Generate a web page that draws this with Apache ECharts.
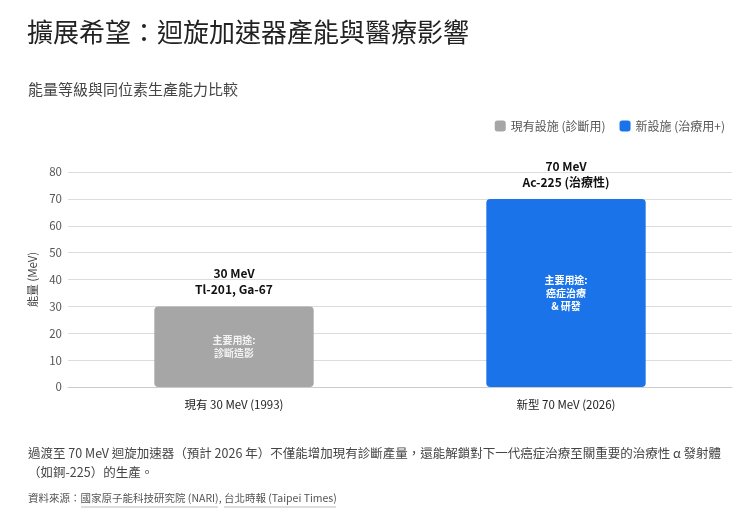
<!DOCTYPE html>
<html><head><meta charset="utf-8">
<script src="https://cdn.jsdelivr.net/npm/echarts@6/dist/echarts.min.js"></script>
<style>html,body{margin:0;padding:0;background:#fff}#c{width:740px;height:518px}</style>
</head><body><div id="c"></div>
<script>
const categories = ['現有 30 MeV (1993)', '新型 70 MeV (2026)'];
const seriesNames = ['現有設施 (診斷用)', '新設施 (治療用+)'];
const existingValues = [30, '-'];
const newValues = ['-', 70];
const topLabels = ['30 MeV\nTl-201, Ga-67', '70 MeV\nAc-225 (治療性)'];
const insideLabels = ['主要用途:\n診斷造影', '主要用途:\n癌症治療\n& 研發'];
const yTicks = [0, 10, 20, 30, 40, 50, 60, 70, 80];

const FONT = '"Noto Sans CJK TC", "Noto Sans", sans-serif';
const chart = echarts.init(document.getElementById('c'), null, {renderer: 'canvas'});

function barSeries(name, data, color, idx, insideColor) {
  return {
    name, type: 'bar', stack: 'all', data, barWidth: '48%',
    itemStyle: {color, borderRadius: 4},
    label: {
      show: true, position: 'inside', color: insideColor,
      fontSize: 10, fontWeight: 'bold', lineHeight: 13, fontFamily: FONT,
      formatter: () => insideLabels[idx]
    },
    markPoint: {
      symbol: 'rect', symbolSize: 1, itemStyle: {color: 'transparent'},
      label: {
        show: true, position: 'top', distance: 8, color: '#111', fontSize: 12,
        fontWeight: 'bold', lineHeight: 16, fontFamily: FONT,
        formatter: () => topLabels[idx]
      },
      data: [{coord: [idx, data[idx]]}]
    }
  };
}

chart.setOption({
  animation: false,
  textStyle: {fontFamily: FONT},
  title: [
    {text: '擴展希望：迴旋加速器產能與醫療影響', left: 22, top: 14,
     textStyle: {fontSize: 26, fontWeight: 'normal', color: '#222', fontFamily: FONT}},
    {text: '能量等級與同位素生產能力比較', left: 23, top: 77,
     textStyle: {fontSize: 15, fontWeight: 'normal', color: '#444', fontFamily: FONT}}
  ],
  legend: {
    right: 10, top: 115, itemWidth: 11, itemHeight: 11, itemGap: 14,
    icon: 'roundRect',
    textStyle: {fontSize: 12, color: '#555', fontFamily: FONT},
    data: seriesNames
  },
  grid: {left: 68, right: 8, top: 172, bottom: 131},
  xAxis: {
    type: 'category', data: categories,
    axisLine: {show: true, lineStyle: {color: '#ccc'}},
    axisTick: {show: false},
    axisLabel: {fontSize: 11.5, color: '#222', margin: 12, fontFamily: FONT}
  },
  yAxis: {
    type: 'value', min: yTicks[0], max: yTicks[yTicks.length - 1], interval: 10,
    name: '能量 (MeV)', nameLocation: 'middle', nameGap: 27,
    nameTextStyle: {fontSize: 11.5, color: '#444', fontFamily: FONT},
    axisLine: {show: false}, axisTick: {show: false},
    axisLabel: {fontSize: 11.5, color: '#555', margin: 6, fontFamily: FONT},
    splitLine: {lineStyle: {color: '#dcdcdc', width: 1}}
  },
  series: [
    barSeries(seriesNames[0], existingValues, '#a6a6a6', 0, 'rgba(255,255,255,0.85)'),
    barSeries(seriesNames[1], newValues, '#1a73e8', 1, '#ffffff')
  ],
  graphic: [
    {type: 'text', left: 28, top: 444, style: {
      text: '過渡至 70 MeV 迴旋加速器（預計 2026 年）不僅能增加現有診斷產量，還能解鎖對下一代癌症治療至關重要的治療性 α 發射體\n（如錒-225）的生產。',
      fontSize: 12.5, lineHeight: 19, fill: '#444', fontFamily: FONT}},
    {type: 'text', left: 28, top: 493, style: {
      text: '資料來源：國家原子能科技研究院 (NARI), 台北時報 (Taipei Times)',
      fontSize: 10.5, fill: '#555', fontFamily: FONT}},
    {type: 'line', shape: {x1: 81, y1: 507, x2: 218, y2: 507}, style: {stroke: '#aaa', lineWidth: 0.8}},
    {type: 'line', shape: {x1: 224, y1: 507, x2: 336, y2: 507}, style: {stroke: '#aaa', lineWidth: 0.8}}
  ]
});
</script></body></html>
